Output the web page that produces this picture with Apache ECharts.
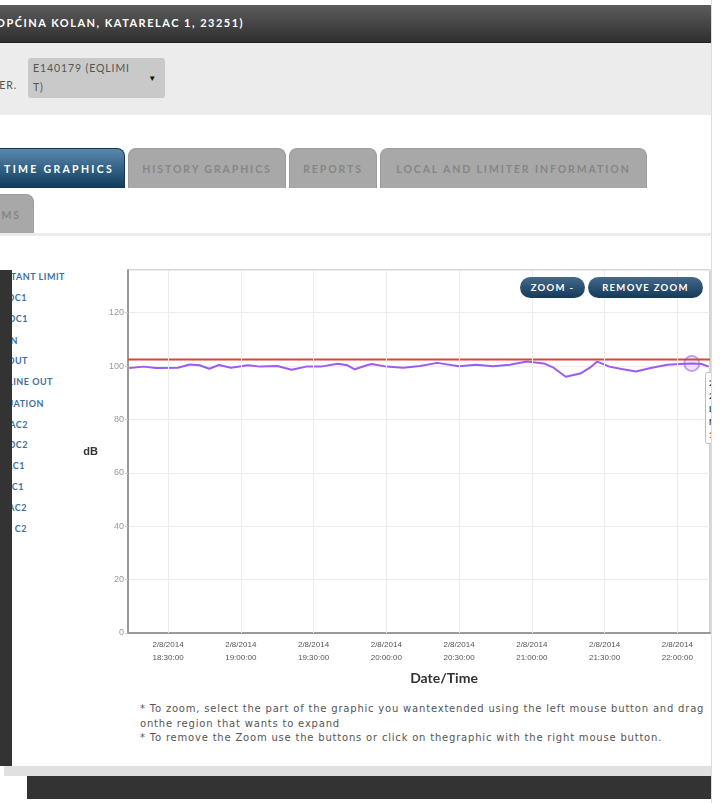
<!DOCTYPE html>
<html lang="en">

<head>
    <meta charset="UTF-8">
    <title>Real time graphics</title>
    <script src="https://cdn.jsdelivr.net/npm/echarts@6/dist/echarts.min.js"></script>
    <style>
        html, body { margin: 0; padding: 0; background: #fff; width: 720px; height: 803px; overflow: hidden; }
        body { font-family: Lato, "Open Sans", sans-serif; }
        .page { position: absolute; left: 0; top: 0; width: 712px; height: 803px; overflow: hidden; }
        .topbar { position: absolute; left: 0; top: 5px; width: 711px; height: 37px;
            background: linear-gradient(#5c5c5c, #2f2f2f); border-bottom: 1px solid #222; }
        .topbar span { position: absolute; left: -4px; top: 11px; color: #fff; font-weight: bold; font-size: 11px; letter-spacing: 1.5px; }
        .filter { position: absolute; left: 0; top: 43px; width: 711px; height: 72px; background: #ececec; }
        .filter .lbl { position: absolute; left: -8px; top: 36px; font-size: 10.5px; color: #555; letter-spacing: 1px; }
        .filter .sel { position: absolute; left: 28px; top: 15px; width: 137px; height: 40px; background: #c9c9c9;
            border-radius: 3px; font-size: 10.5px; color: #555; line-height: 19px; letter-spacing: 0.9px; }
        .filter .sel div { position: absolute; left: 5px; top: 1px; width: 125px; white-space: nowrap; }
        .filter .sel b { position: absolute; right: 8px; top: 11px; font-size: 8px; color: #111; }
        .tab { position: absolute; height: 40px; border-radius: 8px 8px 0 0; background: #a8a8a8; border: 1px solid #9c9c9c;
            border-bottom: none; box-sizing: border-box; color: #868686; font-weight: bold; font-size: 10.5px; letter-spacing: 1.9px;
            line-height: 40px; text-align: center; white-space: nowrap; }
        .tab.on { background: linear-gradient(#5a88ad, #0f3a5c); color: #fff; border-color: #0f3a5c; text-align: right;
            padding-right: 10px; letter-spacing: 2.3px; }
        .rule { position: absolute; left: 0; top: 233px; width: 711px; height: 3px; background: #ebebeb; }
        .rborder { position: absolute; left: 711px; top: 0; width: 1px; height: 803px; background: #ddd; }
        .leftdark { position: absolute; left: 0; top: 270px; width: 12px; height: 496px; background: #333; }
        .legend { position: absolute; left: 0; top: 270px; }
        .legend div { position: absolute; left: -80px; height: 14px; line-height: 14px; font-size: 9px; font-weight: bold;
            color: #3d6f9c; white-space: nowrap; text-align: right; letter-spacing: 0.5px; }
        .btn { position: absolute; top: 277px; height: 21px; line-height: 21px; border-radius: 11px; background: linear-gradient(#44698a, #163957);
            color: #fff; font-weight: bold; font-size: 9.5px; letter-spacing: 1.3px; text-align: center; }
        .tip { position: absolute; left: 705px; top: 372px; width: 60px; height: 72px; background: #fff; border: 1px solid #bbb;
            border-radius: 3px; font-size: 8px; font-weight: bold; color: #333; line-height: 13px; padding: 4px 0 0 3px; box-sizing: border-box; }
        .notes { position: absolute; left: 140px; top: 702px; font-family: "DejaVu Sans", sans-serif; font-size: 10px; color: #555;
            line-height: 14.5px; white-space: nowrap; letter-spacing: 0.8px; }
        .graystrip { position: absolute; left: 4px; top: 766px; width: 708px; height: 10px; background: #e0e0e0; }
        .footer { position: absolute; left: 27px; top: 776px; width: 685px; height: 23px; background: #333; }
        #chart { position: absolute; left: 70px; top: 255px; width: 642px; height: 445px; }
    </style>
</head>

<body>
<div class="page">
    <div class="topbar"><span>OPĆINA KOLAN, KATARELAC 1, 23251)</span></div>
    <div class="filter">
        <span class="lbl">TER.</span>
        <div class="sel"><div>E140179 (EQLIMI<br>T)</div><b>&#9660;</b></div>
    </div>

    <div class="tab on" style="left:-80px; top:148px; width:205px;">REAL TIME GRAPHICS</div>
    <div class="tab" style="left:128px; top:148px; width:158px;">HISTORY GRAPHICS</div>
    <div class="tab" style="left:289px; top:148px; width:88px;">REPORTS</div>
    <div class="tab" style="left:380px; top:148px; width:267px;">LOCAL AND LIMITER INFORMATION</div>
    <div class="tab" style="left:-40px; top:194px; width:74px; text-align:right; padding-right:12px;">ALARMS</div>
    <div class="rule"></div>

    <div class="legend">
        <div style="top:0px; width:145px;">INSTANT LIMIT</div>
        <div style="top:21px; width:107px;">LAF DC1</div>
        <div style="top:42px; width:108px;">LEQ DC1</div>
        <div style="top:64px; width:98px;">MIN</div>
        <div style="top:84px; width:108px;">LIMIT OUT</div>
        <div style="top:105px; width:133px;">LINE OUT</div>
        <div style="top:127px; width:124px;">ATTENUATION</div>
        <div style="top:148px; width:108px;">LAF AC2</div>
        <div style="top:168px; width:108px;">LEQ DC2</div>
        <div style="top:189px; width:105px;">LAF AC1</div>
        <div style="top:210px; width:104px;">LEQ C1</div>
        <div style="top:231px; width:107px;">LAF AC2</div>
        <div style="top:252px; width:107px;">LEQ C2</div>
    </div>
    <div class="leftdark"></div>

    <div id="chart"></div>

    <div class="btn" style="left:520px; width:65px;">ZOOM -</div>
    <div class="btn" style="left:588px; width:115px;">REMOVE ZOOM</div>
    <div class="tip">2/8/2014<br>22:06:30<br>LEQ: 101.0<br>MAX: 101.4<br><span style="color:#d9302c">102.5</span></div>

    <div class="notes">
        * To zoom, select the part of the graphic you wantextended using the left mouse button and drag<br>
        onthe region that wants to expand<br>
        * To remove the Zoom use the buttons or click on thegraphic with the right mouse button.
    </div>
    <div class="graystrip"></div>
    <div class="footer"></div>
    <div class="rborder"></div>
</div>

<script>
    // measured level (dB) over the last 4 hours, 2/8/2014
    var times = ['18:14', '18:20', '18:25', '18:34', '18:39', '18:43', '18:47', '18:51', '18:56', '19:03',
        '19:08', '19:15', '19:21', '19:27', '19:33', '19:40', '19:44', '19:47', '19:52', '19:54',
        '20:00', '20:07', '20:14', '20:21', '20:30', '20:37', '20:44', '20:51', '20:58', '21:05',
        '21:09', '21:14', '21:20', '21:24', '21:27', '21:32', '21:37', '21:43', '21:49', '21:56',
        '22:01', '22:06', '22:10', '22:13'];
    var levels = [99.3, 99.8, 99.3, 99.4, 100.6, 100.3, 99.0, 100.4, 99.4, 100.3,
        99.8, 100.0, 98.6, 99.8, 99.8, 100.9, 100.3, 98.8, 100.3, 100.8,
        99.8, 99.4, 100.0, 101.2, 99.9, 100.5, 99.9, 100.5, 101.7, 101.0,
        99.4, 96.0, 97.2, 99.4, 101.7, 99.8, 98.9, 98.0, 99.3, 100.5,
        100.8, 101.0, 100.8, 99.8];
    var limit = 102.5;
    var hoverIndex = 41;
    var axisStart = '18:13:30', axisEnd = '22:13:30';
    var xTicks = ['18:30', '19:00', '19:30', '20:00', '20:30', '21:00', '21:30', '22:00'];

    function t(hm) {
        var p = hm.split(':');
        return new Date(2014, 1, 8, +p[0], +p[1], +(p[2] || 0)).getTime();
    }

    var levelData = times.map(function (h, i) { return [t(h), levels[i]]; });
    var tickValues = xTicks.map(t);
    var tMin = t(axisStart), tMax = t(axisEnd);

    function pad(n) { return n < 10 ? '0' + n : '' + n; }

    var chart = echarts.init(document.getElementById('chart'));
    chart.setOption({
        animation: false,
        grid: {left: 58, top: 15, width: 582, height: 363, show: true, borderColor: '#aaa', borderWidth: 1},
        xAxis: {
            type: 'value', min: tMin, max: tMax,
            axisLine: {lineStyle: {color: '#999', width: 2}},
            axisTick: {show: false, customValues: tickValues},
            splitLine: {show: false},
            axisLabel: {
                color: '#555', fontSize: 8, lineHeight: 13, margin: 5,
                customValues: tickValues,
                formatter: function (v) {
                    var d = new Date(v);
                    return (d.getMonth() + 1) + '/' + d.getDate() + '/' + d.getFullYear() + '\n' +
                        pad(d.getHours()) + ':' + pad(d.getMinutes()) + ':' + pad(d.getSeconds());
                }
            }
        },
        yAxis: {
            type: 'value', min: 0, max: 136, interval: 20,
            name: 'dB', nameLocation: 'middle', nameRotate: 0, nameGap: 30,
            nameTextStyle: {color: '#333', fontSize: 11, fontWeight: 'bold'},
            axisLine: {show: true, lineStyle: {color: '#999', width: 2}},
            axisTick: {show: true, length: 3, lineStyle: {color: '#ccc'}},
            splitLine: {lineStyle: {color: '#ececec'}},
            axisLabel: {color: '#999', fontSize: 9, margin: 4, showMaxLabel: false}
        },
        graphic: [{
            type: 'text', x: 374, y: 423,
            style: {text: 'Date/Time', fill: '#333', font: 'bold 14px Lato, sans-serif', align: 'center', verticalAlign: 'middle'}
        }],
        series: [{
            // vertical grid lines at the time ticks
            type: 'line', data: [], z: 1, silent: true,
            markLine: {
                silent: true, symbol: 'none', label: {show: false},
                lineStyle: {color: '#ececec', width: 1, type: 'solid'},
                data: tickValues.map(function (v) { return {xAxis: v}; })
            }
        }, {
            type: 'line', name: 'LIMIT', data: [[tMin, limit], [tMax, limit]],
            symbol: 'none', lineStyle: {color: '#d9453f', width: 2}, silent: true
        }, {
            type: 'line', name: 'LEQ', data: levelData,
            symbol: 'none', lineStyle: {color: '#9b5cf2', width: 2}
        }, {
            type: 'scatter', data: [levelData[hoverIndex]], symbolSize: 15,
            itemStyle: {color: 'rgba(155,92,242,0.15)', borderColor: '#b48af5', borderWidth: 2}
        }]
    });
</script>
</body>

</html>
